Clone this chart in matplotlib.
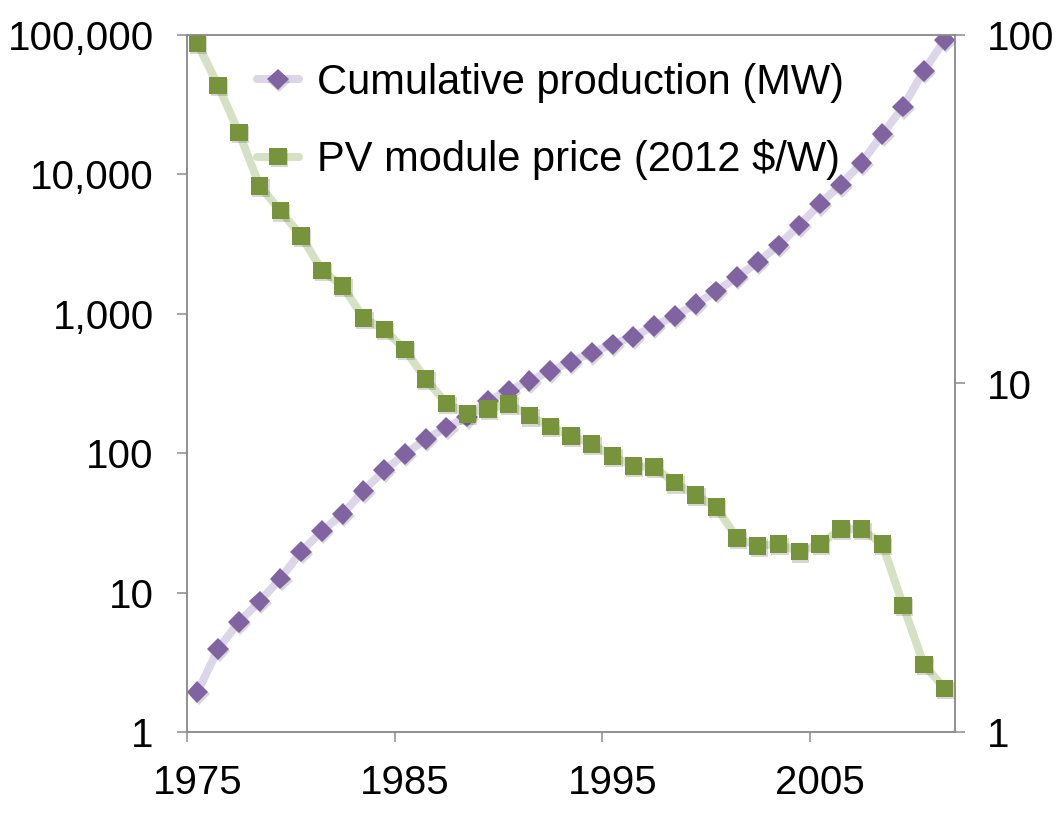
import matplotlib
matplotlib.use("Agg")
import matplotlib.pyplot as plt
import matplotlib.patheffects as pe
from matplotlib.ticker import FixedLocator, NullLocator

plt.rcParams['font.family'] = ['Liberation Sans', 'DejaVu Sans']

# data
years = list(range(1975, 2012))
cumulative_mw = [1.93, 3.94, 6.15, 8.66, 12.6, 19.7, 27.7, 36.5, 53.8, 75.4,
                 98.7, 126, 153, 183, 237, 281, 330, 389, 453, 526,
                 604, 685, 818, 969, 1170, 1450, 1830, 2350, 3100, 4310,
                 6170, 8440, 12100, 19400, 30600, 55200, 92000]
price_usd_w = [94.7, 71.6, 52.5, 36.9, 31.3, 26.5, 21.1, 19.05, 15.4, 14.3,
               12.5, 10.3, 8.77, 8.18, 8.45, 8.73, 8.08, 7.52, 7.07, 6.71,
               6.19, 5.8, 5.76, 5.19, 4.79, 4.42, 3.60, 3.42, 3.46, 3.29,
               3.46, 3.82, 3.82, 3.46, 2.31, 1.56, 1.335]
year_labels = [1975, 1985, 1995, 2005]
left_ticks = [1, 10, 100, 1000, 10000, 100000]
left_labels = ["1", "10", "100", "1,000", "10,000", "100,000"]
right_ticks = [1, 10, 100]
right_labels = ["1", "10", "100"]

purple = "#8064A2"
purple_line = "#DDD5E8"
green = "#77933C"
green_line = "#D6E1C4"
spine_col = "#8C8C8C"
fs = 29

fig = plt.figure(figsize=(10.6, 8.38), dpi=100)
ax = fig.add_axes([187 / 1060, 1 - 732 / 838, (955 - 187) / 1060, (732 - 35) / 838])
ax2 = ax.twinx()

shadow = [pe.SimplePatchShadow(offset=(1.0, -1.5), alpha=0.18), pe.Normal()]

l1, = ax.plot(years, cumulative_mw, color=purple_line, lw=5.8, solid_capstyle='round')
m1, = ax.plot(years, cumulative_mw, ls='none', marker='D', ms=11,
              mfc=purple, mec=purple, mew=0, path_effects=shadow)
l2, = ax2.plot(years, price_usd_w, color=green_line, lw=5.8, solid_capstyle='round')
m2, = ax2.plot(years, price_usd_w, ls='none', marker='s', ms=12.5,
               mfc=green, mec=green, mew=0, path_effects=shadow)

ax.set_yscale('log')
ax2.set_yscale('log')
ax.set_ylim(1, 100000)
ax2.set_ylim(1, 100)
ax.set_xlim(years[0] - 0.5, years[-1] + 0.5)

# ticks sit on category edges, labels on category centres
edges = [y - 0.5 for y in year_labels]
ax.xaxis.set_major_locator(FixedLocator(edges))
ax.set_xticklabels([""] * len(edges))
ax.xaxis.set_minor_locator(FixedLocator(year_labels))
ax.set_xticklabels([str(y) for y in year_labels], minor=True)
ax.tick_params(axis='x', which='major', direction='out', length=7, width=1.1, color=spine_col)
ax.tick_params(axis='x', which='minor', length=0, pad=23, labelsize=fs)

ax.yaxis.set_major_locator(FixedLocator(left_ticks))
ax.yaxis.set_minor_locator(NullLocator())
ax.set_yticklabels(left_labels)
ax.tick_params(axis='y', direction='out', length=7, width=1.1, color=spine_col, pad=17, labelsize=fs)

ax2.yaxis.set_major_locator(FixedLocator(right_ticks))
ax2.yaxis.set_minor_locator(NullLocator())
ax2.set_yticklabels(right_labels)
ax2.tick_params(axis='y', direction='out', length=7, width=1.1, color=spine_col, pad=16, labelsize=fs)

for a in (ax, ax2):
    for s in a.spines.values():
        s.set_color(spine_col)
        s.set_linewidth(1.1)

ax2.legend([(l1, m1), (l2, m2)],
           ["Cumulative production (MW)", "PV module price (2012 $/W)"],
           loc='upper left', bbox_to_anchor=(257 / 1060, 1 - 63 / 838),
           bbox_transform=fig.transFigure, frameon=False, fontsize=30,
           borderpad=0, borderaxespad=0, handlelength=1.0, handletextpad=0.43,
           labelspacing=0.87)

fig.savefig("out.png", dpi=100)
